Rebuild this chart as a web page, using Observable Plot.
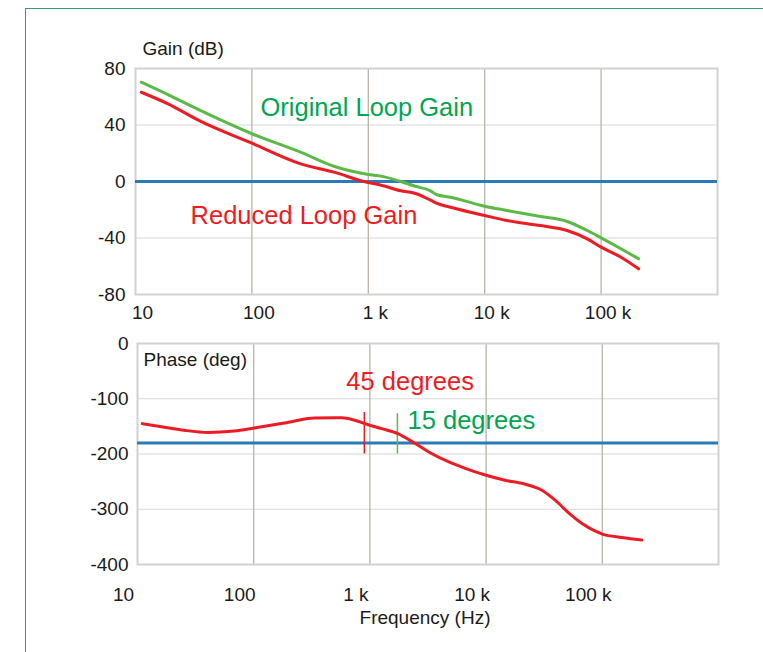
<!DOCTYPE html>
<html>
<head>
<meta charset="utf-8">
<script src="https://cdn.jsdelivr.net/npm/d3@7"></script>
<script src="https://cdn.jsdelivr.net/npm/@observablehq/plot@0.6"></script>
<style>
  html, body { margin: 0; padding: 0; background: #fff; }
  #wrap { position: relative; width: 763px; height: 652px; overflow: hidden; background: #fff;
          font-family: "Liberation Sans", Arial, Helvetica, sans-serif; }
  #border { position: absolute; left: 25px; top: 8px; width: 800px; height: 700px;
            border: 1.6px solid #3a9b72; box-sizing: border-box; }
  #top { position: absolute; left: 0; top: 0; }
  #bot { position: absolute; left: 0; top: 330px; }
</style>
</head>
<body>
<div id="wrap">
  <div id="border"></div>
  <div id="top"></div>
  <div id="bot"></div>
</div>
<script>
// ---- Data ----
const xTicks = [10, 100, 1000, 10000, 100000];
const xTickLabels = ["10", "100", "1 k", "10 k", "100 k"];
const gainTicks = [-80, -40, 0, 40, 80];
const phaseTicks = [-400, -300, -200, -100, 0];

const gainFreq = [11.2, 19, 36, 100, 262, 506, 1000, 1290, 1900, 2540, 3390, 3890, 5080, 10000, 15500, 30200, 51000, 76000, 100000, 148000, 210000];
const originalGain = [70.3, 61.5, 50.3, 33.8, 20.8, 10.8, 5.0, 3.8, 0, -3.4, -6.4, -9.4, -11.1, -17.5, -20.5, -24.8, -28.3, -34.7, -39.9, -47.6, -54.7];
const reducedGain = [63.2, 55.0, 42.7, 27.1, 12.5, 6.6, -0.8, -2.6, -6.6, -8.5, -13.0, -15.5, -18.2, -24.1, -27.6, -31.2, -34.7, -40.6, -46.5, -53.6, -61.8];

const phaseFreq = [11.0, 18.2, 25.1, 40.2, 68.2, 101, 184, 334, 501, 575, 741, 966, 1259, 1738, 2455, 3388, 4732, 6607, 10000, 14550, 21730, 30200, 39260, 51290, 66830, 87100, 100000, 147900, 218800];
const reducedPhase = [-145, -152.5, -157, -161, -158.5, -153, -144, -135, -134.5, -134.5, -139, -147, -154, -163, -181, -199, -214, -226, -238.5, -247.5, -254.7, -265.6, -283.6, -306.5, -325.6, -339.5, -345, -351, -355.7];

const gainRef = 0;
const phaseRef = -180;

const markerFreq = [895, 1725];
const markerTop = [-125, -127];
const markerBottom = [-200, -200];

const gainLabels = ["Original Loop Gain", "Reduced Loop Gain"];
const gainLabelFreq = [118.6, 29.7];
const gainLabelValue = [52.4, -24.1];

const phaseLabels = ["45 degrees", "15 degrees"];
const phaseLabelFreq = [627, 2109];
const phaseLabelValue = [-70.2, -140.5];

// ---- Styles ----
const FONT = '"Liberation Sans", Arial, Helvetica, sans-serif';
const RED = "#ed1c24";
const GREEN_LINE = "#5cb947";
const GREEN_TEXT = "#00a651";
const BLUE = "#2a7bb8";
const VGRID = "#b9b3a8";
const HGRID = "#d8d8d8";
const FRAME = "#d2d2d2";

const fmt = d => xTickLabels[xTicks.indexOf(d)];

const gainData = gainFreq.map((f, i) => ({f, orig: originalGain[i], red: reducedGain[i]}));
const phaseData = phaseFreq.map((f, i) => ({f, p: reducedPhase[i]}));
const markers = markerFreq.map((f, i) => ({f, y1: markerTop[i], y2: markerBottom[i], c: i === 0 ? RED : GREEN_LINE}));
const gLabels = gainLabels.map((t, i) => ({t, f: gainLabelFreq[i], v: gainLabelValue[i], c: i === 0 ? GREEN_TEXT : RED}));
const pLabels = phaseLabels.map((t, i) => ({t, f: phaseLabelFreq[i], v: phaseLabelValue[i], c: i === 0 ? RED : GREEN_TEXT}));

const topPlot = Plot.plot({
  width: 763, height: 330,
  marginLeft: 135, marginRight: 46, marginTop: 68, marginBottom: 36,
  style: {fontFamily: FONT, color: "#1a1a1a", background: "transparent", overflow: "visible"},
  x: {type: "log", domain: [10, 1e6]},
  y: {domain: [-80, 80]},
  marks: [
    Plot.gridY([-40, 40], {stroke: HGRID, strokeOpacity: 1, strokeWidth: 1.2}),
    Plot.gridX([100, 1000, 10000, 100000], {stroke: VGRID, strokeOpacity: 1, strokeWidth: 1.3}),
    Plot.frame({stroke: FRAME, strokeWidth: 2}),
    Plot.ruleY([gainRef], {stroke: BLUE, strokeWidth: 3}),
    Plot.line(gainData, {x: "f", y: "orig", stroke: GREEN_LINE, strokeWidth: 3, curve: "monotone-x"}),
    Plot.line(gainData, {x: "f", y: "red", stroke: RED, strokeWidth: 3, curve: "monotone-x"}),
    Plot.text(gLabels, {x: "f", y: "v", text: "t", fill: "c", fontSize: 25.5, textAnchor: "start", lineAnchor: "middle"}),
    Plot.text(["Gain (dB)"], {frameAnchor: "top-left", lineAnchor: "middle", dx: 7, dy: -20, fontSize: 19, textAnchor: "start", fill: "#1a1a1a"}),
    Plot.axisX(xTicks, {tickFormat: fmt, tickSize: 0, tickPadding: 11, fontSize: 19, dx: 7, label: null}),
    Plot.axisY(gainTicks, {tickFormat: d => String(d), tickSize: 0, tickPadding: 10, fontSize: 19, label: null})
  ]
});
document.getElementById("top").appendChild(topPlot);

const botPlot = Plot.plot({
  width: 763, height: 322,
  marginLeft: 137, marginRight: 45, marginTop: 13, marginBottom: 88,
  style: {fontFamily: FONT, color: "#1a1a1a", background: "transparent", overflow: "visible"},
  x: {type: "log", domain: [10, 1e6]},
  y: {domain: [-400, 0]},
  marks: [
    Plot.gridY([-300, -200, -100], {stroke: HGRID, strokeOpacity: 1, strokeWidth: 1.2}),
    Plot.gridX([100, 1000, 10000, 100000], {stroke: VGRID, strokeOpacity: 1, strokeWidth: 1.3}),
    Plot.frame({stroke: FRAME, strokeWidth: 2}),
    Plot.ruleY([phaseRef], {stroke: BLUE, strokeWidth: 3}),
    Plot.ruleX(markers, {x: "f", y1: "y1", y2: "y2", stroke: "c", strokeWidth: 1.5}),
    Plot.line(phaseData, {x: "f", y: "p", stroke: RED, strokeWidth: 3, curve: "monotone-x"}),
    Plot.text(pLabels, {x: "f", y: "v", text: "t", fill: "c", fontSize: 25.5, textAnchor: "start", lineAnchor: "middle"}),
    Plot.text(["Phase (deg)"], {frameAnchor: "top-left", lineAnchor: "middle", dx: 6, dy: 16, fontSize: 19, textAnchor: "start", fill: "#1a1a1a"}),
    Plot.text(["Frequency (Hz)"], {frameAnchor: "bottom", lineAnchor: "middle", dx: -3, dy: 53, fontSize: 19, fill: "#1a1a1a"}),
    Plot.axisX(xTicks, {tickFormat: fmt, tickSize: 0, tickPadding: 23, fontSize: 19, dx: -14, label: null}),
    Plot.axisY(phaseTicks, {tickFormat: d => String(d), tickSize: 0, tickPadding: 9, fontSize: 19, label: null})
  ]
});
document.getElementById("bot").appendChild(botPlot);
</script>
</body>
</html>
